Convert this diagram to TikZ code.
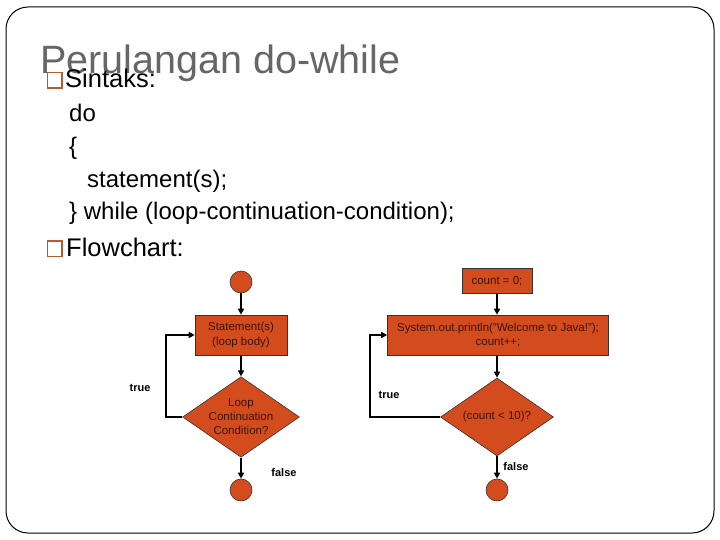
\documentclass[tikz,border=0pt]{standalone}
\usepackage{fontspec}
\setmainfont{Liberation Sans}
\usetikzlibrary{shapes.geometric,arrows.meta}

\definecolor{flowfill}{RGB}{210,76,30}
\definecolor{flowtext}{RGB}{60,20,10}
\definecolor{titlegray}{RGB}{102,102,102}
\definecolor{bulletbrown}{RGB}{185,90,55}

\tikzset{
  box/.style={draw=black!80,line width=0.6pt,fill=flowfill,text=flowtext,
    font=\fontsize{11.5}{14.5}\selectfont,align=center,inner sep=0pt},
  decision/.style={diamond,draw=black!80,line width=0.6pt,fill=flowfill,text=flowtext,
    font=\fontsize{11.5}{14}\selectfont,align=center,inner sep=0pt,aspect=1.45,
    minimum width=113pt,minimum height=78pt},
  terminal/.style={circle,draw=black!80,line width=0.6pt,fill=flowfill,
    minimum size=22pt,inner sep=0pt},
  flow/.style={line width=1.8pt,-{Triangle[length=6pt,width=6pt]}},
  tag/.style={font=\fontsize{11}{13}\selectfont\bfseries},
  line/.style={anchor=base west,inner sep=0pt,font=\fontsize{24}{28}\selectfont},
  bullet/.style={anchor=base west,inner sep=0pt,font=\fontsize{25.5}{30}\selectfont}
}

\begin{document}
\begin{tikzpicture}[x=1pt,y=-1pt]
		\useasboundingbox (0,0) rectangle (720,540);
		
		% slide frame
		\draw[line width=1pt,rounded corners=22pt] (6,7) rectangle (714,533);
		
		% title
		\node[anchor=base west,inner sep=0pt,text=titlegray,font=\fontsize{39.5}{44}\selectfont] (Title) at (40,74) {Perulangan do-while};
		
		% syntax
		\draw[bulletbrown,line width=1.4pt] (47.5,72.5) rectangle (62,88);
		\node[bullet] (Sintaks) at (65,87.5) {Sintaks:};
		\node[line] (Do) at (69,122) {do};
		\node[line] (Open) at (69,155) {\{};
		\node[line] (Stmt) at (87,188) {statement(s);};
		\node[line] (While) at (69,220) {\} while (loop-continuation-condition);};
		\draw[bulletbrown,line width=1.4pt] (47.5,241) rectangle (62,256.5);
		\node[bullet] (Flow) at (66,256) {Flowchart:};
		
		% general do-while
		\node[terminal] (Start) at (241,282) {};
		\node[box,minimum width=92pt,minimum height=40pt] (Body) at (241,335) {Statement(s)\\(loop body)};
		\node[decision] (Cond) at (241,417) {Loop\\Continuation\\Condition?};
		\node[terminal] (End) at (241,490) {};
		\coordinate (Back) at (166,417);
		\draw[flow] (Start) -- (Body);
		\draw[flow] (Body) -- (Cond);
		\draw[flow] (Cond) -- (End);
		\draw[flow] (Cond.west) -- (Back) |- (Body.west);
		\node[tag] at (140,388) {true};
		\node[tag] at (284,473) {false};
		
		% example with count
		\node[box,minimum width=70pt,minimum height=25pt] (Init) at (497,281) {count = 0;};
		\node[box,minimum width=221pt,minimum height=40pt] (Print) at (498,335) {System.out.println("Welcome to Java!");\\count++;};
		\node[decision] (Test) at (497,417) {(count < 10)?};
		\node[terminal] (Stop) at (497,490) {};
		\coordinate (Again) at (370,417);
		\draw[flow] (Init) -- (Print.north -| Init);
		\draw[flow] (Print.south -| Test) -- (Test);
		\draw[flow] (Test) -- (Stop);
		\draw[flow] (Test.west) -- (Again) |- (Print.west);
		\node[tag] at (389,395) {true};
		\node[tag] at (516,467) {false};
	\end{tikzpicture}
\end{document}
